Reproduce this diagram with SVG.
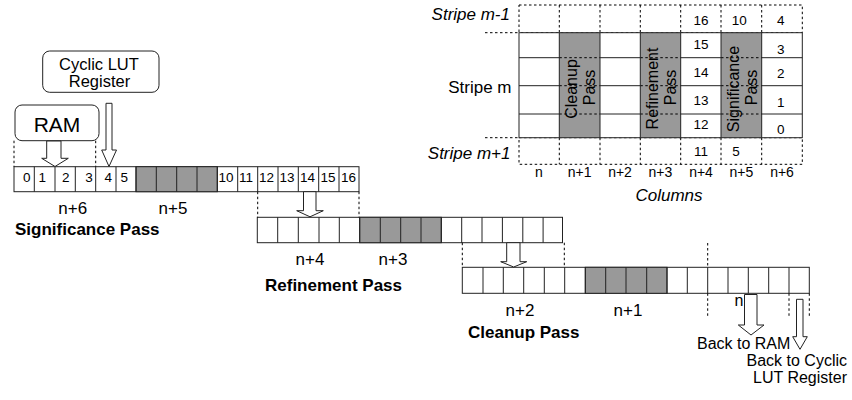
<svg xmlns="http://www.w3.org/2000/svg" width="852" height="400" viewBox="0 0 852 400">
<defs>
<style>
text{font-family:"Liberation Sans",Arial,sans-serif;fill:#000}
.num{font-size:13.5px;text-anchor:middle}
.lbl{font-size:17px;text-anchor:middle}
.col{font-size:14px;text-anchor:middle}
.ttl{font-size:17px;font-weight:bold}
.it{font-style:italic}
.rot{font-size:16px;text-anchor:middle}
.cell{fill:#fff;stroke:#222;stroke-width:1}
.gcell{fill:#999;stroke:#222;stroke-width:1}
.dash{fill:none;stroke:#000;stroke-width:1;stroke-dasharray:2.5,2.5}
.solid{fill:none;stroke:#222;stroke-width:1}
.box{fill:#fff;stroke:#222;stroke-width:1}
.arr{fill:#fff;stroke:#222;stroke-width:1;stroke-linejoin:miter}
</style>
</defs>
<rect width="852" height="400" fill="#fff"/>

<!-- Top-right stripe grid -->
<g id="stripe-grid">
  <rect class="dash" x="519" y="5" width="283.3" height="27.7"/>
  <path class="dash" d="M559.3 5V32.7M600 5V32.7M640.3 5V32.7M680.7 5V32.7M721 5V32.7M761.7 5V32.7"/>
  <rect class="dash" x="519" y="137.7" width="283.3" height="26.6"/>
  <path class="dash" d="M559.3 137.7V164.3M600 137.7V164.3M640.3 137.7V164.3M680.7 137.7V164.3M721 137.7V164.3M761.7 137.7V164.3"/>
  <path class="dash" d="M485 32.7H519M485 137.7H519"/>
  <rect x="519" y="32.7" width="283.3" height="105" fill="#fff"/>
  <path class="solid" d="M519 57.7H802.3M519 85.7H802.3M519 114H802.3"/>
  <rect x="559.3" y="32.7" width="40.7" height="105" fill="#999"/>
  <rect x="640.3" y="32.7" width="40.4" height="105" fill="#999"/>
  <rect x="721" y="32.7" width="40.7" height="105" fill="#999"/>
  <path class="dash" d="M559.3 57.7H600M559.3 85.7H600M559.3 114H600M640.3 57.7H680.7M640.3 85.7H680.7M640.3 114H680.7M721 57.7H761.7M721 85.7H761.7M721 114H761.7"/>
  <rect class="solid" x="519" y="32.7" width="283.3" height="105"/>
  <path class="solid" d="M559.3 32.7V137.7M600 32.7V137.7M640.3 32.7V137.7M680.7 32.7V137.7M721 32.7V137.7M761.7 32.7V137.7"/>
  <text class="rot" transform="translate(576.5,89) rotate(-90)">Cleanup</text>
  <text class="rot" transform="translate(595,87.5) rotate(-90)">Pass</text>
  <text class="rot" transform="translate(658,88.5) rotate(-90)">Refinement</text>
  <text class="rot" transform="translate(676,87.5) rotate(-90)">Pass</text>
  <text class="rot" transform="translate(739,89) rotate(-90)">Significance</text>
  <text class="rot" transform="translate(757,87.5) rotate(-90)">Pass</text>
  <text class="num" x="701" y="25">16</text>
  <text class="num" x="701" y="49">15</text>
  <text class="num" x="701" y="77">14</text>
  <text class="num" x="701" y="105">13</text>
  <text class="num" x="701" y="128.5">12</text>
  <text class="num" x="701" y="156">11</text>
  <text class="num" x="739.3" y="25">10</text>
  <text class="num" x="736" y="156">5</text>
  <text class="num" x="780.7" y="25">4</text>
  <text class="num" x="780.7" y="54.3">3</text>
  <text class="num" x="780.7" y="78.3">2</text>
  <text class="num" x="780.7" y="106.7">1</text>
  <text class="num" x="780.7" y="134.3">0</text>
  <text class="lbl it" x="510" y="20" style="text-anchor:end">Stripe m-1</text>
  <text class="lbl" x="511.5" y="93" style="text-anchor:end">Stripe m</text>
  <text class="lbl it" x="510.5" y="159" style="text-anchor:end">Stripe m+1</text>
  <text class="col" x="539" y="177">n</text>
  <text class="col" x="579.7" y="177">n+1</text>
  <text class="col" x="620" y="177">n+2</text>
  <text class="col" x="660.3" y="177">n+3</text>
  <text class="col" x="701" y="177">n+4</text>
  <text class="col" x="741.3" y="177">n+5</text>
  <text class="col" x="782" y="177">n+6</text>
  <text class="lbl it" x="669" y="201">Columns</text>
</g>

<!-- Sources -->
<g id="cyclic-lut">
  <rect class="box" x="42.7" y="51" width="116.3" height="41.3" rx="7"/>
  <text x="99" y="69.5" style="font-size:16.5px;text-anchor:middle">Cyclic LUT</text>
  <text x="99.5" y="86.5" style="font-size:16.5px;text-anchor:middle">Register</text>
</g>
<g id="ram">
  <rect class="box" x="15" y="105" width="84" height="35.7" rx="7"/>
  <text x="57" y="131.7" style="font-size:21px;text-anchor:middle">RAM</text>
</g>

<!-- Significance pass row -->
<g id="significance-row">
  <rect class="cell" x="14" y="166.7" width="345" height="25"/>
  <rect class="gcell" x="136" y="166.7" width="81.3" height="25"/>
  <path class="solid" d="M34.3 166.7v25M55 166.7v25M75.3 166.7v25M95.7 166.7v25M116 166.7v25M136 166.7v25M156.3 166.7v25M176.7 166.7v25M197 166.7v25M217.3 166.7v25M237.7 166.7v25M257.7 166.7v25M278 166.7v25M298.3 166.7v25M318.7 166.7v25M339 166.7v25"/>
  <text class="num" x="26.7" y="181.5">0</text>
  <text class="num" x="42.3" y="181.5">1</text>
  <text class="num" x="65.7" y="181.5">2</text>
  <text class="num" x="89" y="181.5">3</text>
  <text class="num" x="108.3" y="181.5">4</text>
  <text class="num" x="124.3" y="181.5">5</text>
  <text class="num" x="226" y="181.5">10</text>
  <text class="num" x="246" y="181.5">11</text>
  <text class="num" x="266.5" y="181.5">12</text>
  <text class="num" x="287" y="181.5">13</text>
  <text class="num" x="307.5" y="181.5">14</text>
  <text class="num" x="328" y="181.5">15</text>
  <text class="num" x="348.5" y="181.5">16</text>
  <text class="lbl" x="72.7" y="214">n+6</text>
  <text class="lbl" x="173" y="214">n+5</text>
  <text class="ttl" x="15" y="235">Significance Pass</text>
</g>

<!-- Refinement pass row -->
<g id="refinement-row">
  <rect class="cell" x="257.3" y="217.3" width="305.2" height="25.4"/>
  <rect class="gcell" x="359.7" y="217.3" width="81.6" height="25.4"/>
  <path class="solid" d="M277.7 217.3v25.4M298.3 217.3v25.4M319 217.3v25.4M339.3 217.3v25.4M359.7 217.3v25.4M380.3 217.3v25.4M400.7 217.3v25.4M421 217.3v25.4M441.3 217.3v25.4M461.7 217.3v25.4M482 217.3v25.4M502.4 217.3v25.4M522.8 217.3v25.4M543.1 217.3v25.4"/>
  <text class="lbl" x="310" y="265">n+4</text>
  <text class="lbl" x="393" y="265">n+3</text>
  <text class="ttl" x="265" y="291">Refinement Pass</text>
</g>

<!-- Cleanup pass row -->
<g id="cleanup-row">
  <rect class="cell" x="462.3" y="267.3" width="347" height="26"/>
  <rect class="gcell" x="585.3" y="267.3" width="81.7" height="26"/>
  <path class="solid" d="M483 267.3v26M503.3 267.3v26M523.7 267.3v26M544.3 267.3v26M564.7 267.3v26M585.3 267.3v26M605.7 267.3v26M626 267.3v26M646.7 267.3v26M667 267.3v26M687.3 267.3v26M707.7 267.3v26M728 267.3v26M748.3 267.3v26M768.7 267.3v26M789 267.3v26"/>
  <text class="lbl" x="520" y="316">n+2</text>
  <text class="lbl" x="628" y="316">n+1</text>
  <text class="ttl" x="468" y="338">Cleanup Pass</text>
  <text x="739" y="306" style="font-size:16px;text-anchor:middle">n</text>
</g>

<!-- Connectors -->
<g id="connectors">
  <path class="dash" d="M14 140.7V166.7M95.7 140.7V166.7"/>
  <path class="dash" d="M257.7 191.7V217.3M359 191.7V217.3"/>
  <path class="dash" d="M462.3 242.7V267.3M564.3 242.7V267.3"/>
  <path class="dash" d="M707.7 243V267.3M707.7 293.3V317M789 293.3V317M809.3 293.3V317"/>
  <polygon class="arr" points="46.7,141 61,141 61,158.3 68.3,158.3 55,166.5 41.7,158.3 46.7,158.3"/>
  <polygon class="arr" points="106,103.3 112,103.3 112,150 116.5,150 109,166.5 101.7,150 106,150"/>
  <polygon class="arr" points="303.5,191.7 316,191.7 316,210.7 323.3,210.7 310,216.8 296.7,210.7 303.5,210.7"/>
  <polygon class="arr" points="506.7,242.7 520,242.7 520,261.7 526.7,261.7 513.7,267 500.7,261.7 506.7,261.7"/>
  <polygon class="arr" points="744.5,294.5 757,294.5 757,325 764,325 751,335 738.3,325 744.5,325"/>
  <polygon class="arr" points="796.5,299.3 803,299.3 803,336.7 807.3,336.7 800,349.3 792.7,336.7 796.5,336.7"/>
  <text x="697" y="349" style="font-size:16px">Back to RAM</text>
  <text x="847" y="366" style="font-size:16px;text-anchor:end">Back to Cyclic</text>
  <text x="847" y="383" style="font-size:16px;text-anchor:end">LUT Register</text>
</g>
</svg>
